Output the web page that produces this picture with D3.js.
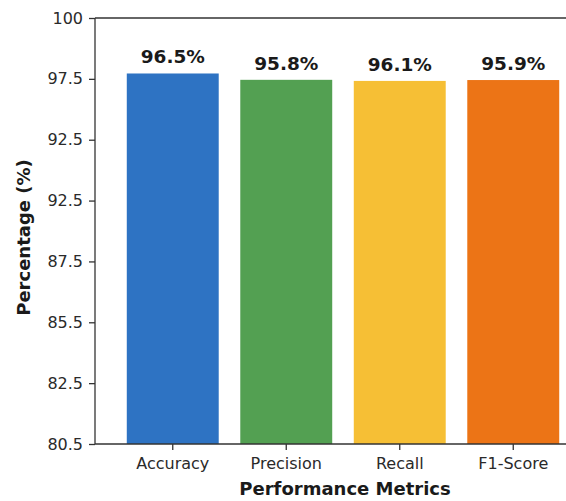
<!DOCTYPE html>
<html>
<head>
  <meta charset="utf-8">
  <script src="https://d3js.org/d3.v7.min.js"></script>
  <style>
    body { margin: 0; background: #fff; }
    svg { display: block; font-family: "DejaVu Sans", sans-serif; }
  </style>
</head>
<body>
<script>
  "use strict";

  // chart data
  var metrics = ["Accuracy", "Precision", "Recall", "F1-Score"];
  var barValues = [97.46, 97.17, 97.12, 97.16];
  var valueLabels = ["96.5%", "95.8%", "96.1%", "95.9%"];
  var barColors = ["#2e73c3", "#53a052", "#f6bf35", "#ec7416"];
  // tick labels from bottom to top, as printed on the axis
  var yTickLabels = ["80.5", "82.5", "85.5", "87.5", "92.5", "92.5", "97.5", "100"];

  var width = 566, height = 501;
  var plotLeft = 95, plotTop = 18, plotBottom = 444, plotRight = 600;

  var svg = d3.select("body").append("svg")
      .attr("width", width)
      .attr("height", height);

  var x = d3.scaleBand()
      .domain(metrics)
      .range([116, 570])
      .paddingInner(0.19)
      .paddingOuter(0.095);

  var y = d3.scaleLinear()
      .domain([80.5, 100])
      .range([plotBottom, plotTop]);

  var yTicks = yTickLabels.map(function (d, i) {
    return 80.5 + i * (100 - 80.5) / (yTickLabels.length - 1);
  });

  // bars
  svg.selectAll("rect.bar")
    .data(metrics)
    .enter().append("rect")
      .attr("class", "bar")
      .attr("x", function (d) { return x(d); })
      .attr("width", x.bandwidth())
      .attr("y", function (d, i) { return y(barValues[i]); })
      .attr("height", function (d, i) { return plotBottom - y(barValues[i]); })
      .attr("fill", function (d, i) { return barColors[i]; });

  // value labels
  svg.selectAll("text.val")
    .data(metrics)
    .enter().append("text")
      .attr("class", "val")
      .attr("x", function (d) { return x(d) + x.bandwidth() / 2; })
      .attr("y", function (d, i) { return y(barValues[i]) - 10; })
      .attr("text-anchor", "middle")
      .style("font-size", "18.5px")
      .style("font-weight", "bold")
      .style("fill", "#1a1a1a")
      .text(function (d, i) { return valueLabels[i]; });

  // axes
  var yAxis = d3.axisLeft(y)
      .tickValues(yTicks)
      .tickSize(6)
      .tickPadding(6)
      .tickFormat(function (d, i) { return yTickLabels[i]; });

  var gy = svg.append("g")
      .attr("transform", "translate(" + plotLeft + ",0)")
      .call(yAxis);

  var xAxis = d3.axisBottom(x).tickSize(6).tickPadding(8).tickSizeOuter(0);
  var gx = svg.append("g")
      .attr("transform", "translate(0," + plotBottom + ")")
      .call(xAxis);

  [gx, gy].forEach(function (g) {
    g.select(".domain").remove();
    g.selectAll(".tick line").attr("stroke", "#333").attr("stroke-width", 1.3);
    g.selectAll(".tick text")
      .style("font-size", "16px")
      .style("font-family", "DejaVu Sans, sans-serif")
      .attr("fill", "#2a2a2a");
  });

  // spines
  svg.append("line").attr("x1", plotLeft).attr("x2", plotLeft).attr("y1", plotTop).attr("y2", plotBottom)
    .attr("stroke", "#333").attr("stroke-width", 1.3);
  svg.append("line").attr("x1", plotLeft).attr("x2", plotRight).attr("y1", plotTop).attr("y2", plotTop)
    .attr("stroke", "#333").attr("stroke-width", 1.3);
  svg.append("line").attr("x1", plotLeft).attr("x2", plotRight).attr("y1", plotBottom).attr("y2", plotBottom)
    .attr("stroke", "#333").attr("stroke-width", 1.3);

  // axis titles
  svg.append("text")
      .attr("x", 345)
      .attr("y", 495)
      .attr("text-anchor", "middle")
      .style("font-size", "18px")
      .style("font-weight", "bold")
      .style("fill", "#1a1a1a")
      .text("Performance Metrics");

  svg.append("text")
      .attr("transform", "translate(30,237.5) rotate(-90)")
      .attr("text-anchor", "middle")
      .style("font-size", "18px")
      .style("font-weight", "bold")
      .style("fill", "#1a1a1a")
      .text("Percentage (%)");
</script>
</body>
</html>
